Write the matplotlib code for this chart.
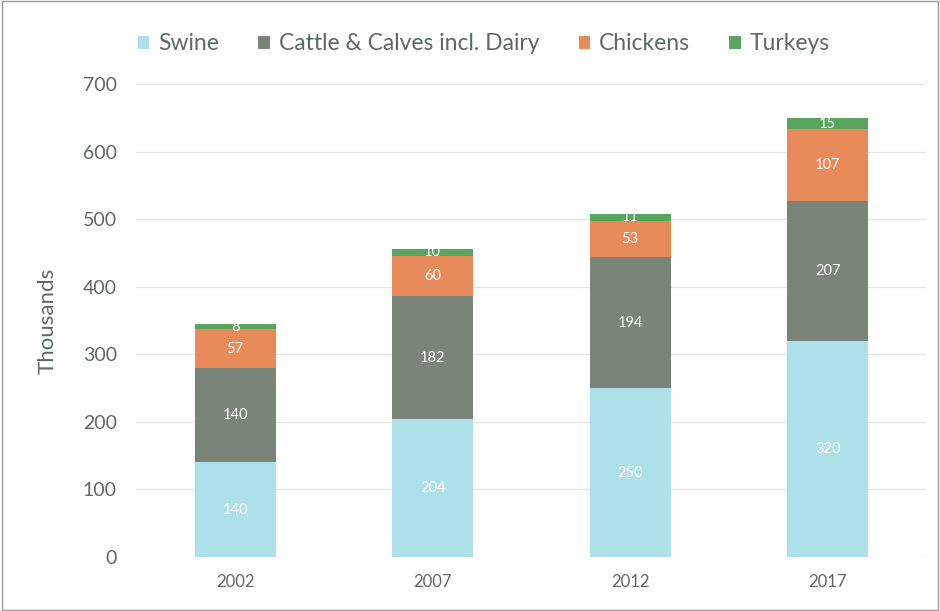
import matplotlib.pyplot as plt
import numpy as np

years = ["2002", "2007", "2012", "2017"]
swine = [140, 204, 250, 320]
cattle = [140, 182, 194, 207]
chickens = [57, 60, 53, 107]
turkeys = [8, 10, 11, 15]

series = [
    ("Swine", swine, "#aee0ea"),
    ("Cattle & Calves incl. Dairy", cattle, "#7b8479"),
    ("Chickens", chickens, "#e98a5a"),
    ("Turkeys", turkeys, "#5aa55e"),
]

plt.rcParams["font.family"] = ["Lato", "DejaVu Sans"]
text_color = "#5d6b5f"

fig = plt.figure(figsize=(9.4, 6.11), dpi=100)
ax = fig.add_axes([0.145, 0.0884, 0.8406, 0.7741])

x = np.arange(len(years))
bottom = np.zeros(len(years))
for name, vals, color in series:
    bars = ax.bar(x, vals, 0.41, bottom=bottom, color=color, label=name, zorder=2)
    for rect, v, b in zip(bars, vals, bottom):
        ax.text(rect.get_x() + rect.get_width() / 2, b + v / 2, str(v),
                ha="center", va="center", color="white", fontsize=10.5, zorder=3)
    bottom += np.array(vals)

ax.set_xlim(-0.5, len(years) - 0.5)
ax.set_ylim(0, 700)
ax.set_yticks(range(0, 701, 100))
ax.set_xticks(x)
ax.set_xticklabels(years)
ax.tick_params(axis="both", length=0, colors=text_color)
ax.tick_params(axis="y", labelsize=14, pad=14)
ax.tick_params(axis="x", labelsize=12, pad=12)
ax.grid(axis="y", color="#e6e6e6", linewidth=1, zorder=0)
for s in ax.spines.values():
    s.set_visible(False)
ax.set_ylabel("Thousands", fontsize=16, color=text_color, labelpad=18)

ax.legend(loc="center", bbox_to_anchor=(0.44, 1.085), ncol=4, frameon=False,
          fontsize=16.5, handlelength=0.5, handleheight=0.5, handletextpad=0.4,
          columnspacing=1.7, labelcolor=text_color)

fig.patches.append(plt.Rectangle((0.002, 0.002), 0.996, 0.996, transform=fig.transFigure,
                                 fill=False, edgecolor="#9a9a9a", linewidth=1))

fig.savefig("out.png", dpi=100)
